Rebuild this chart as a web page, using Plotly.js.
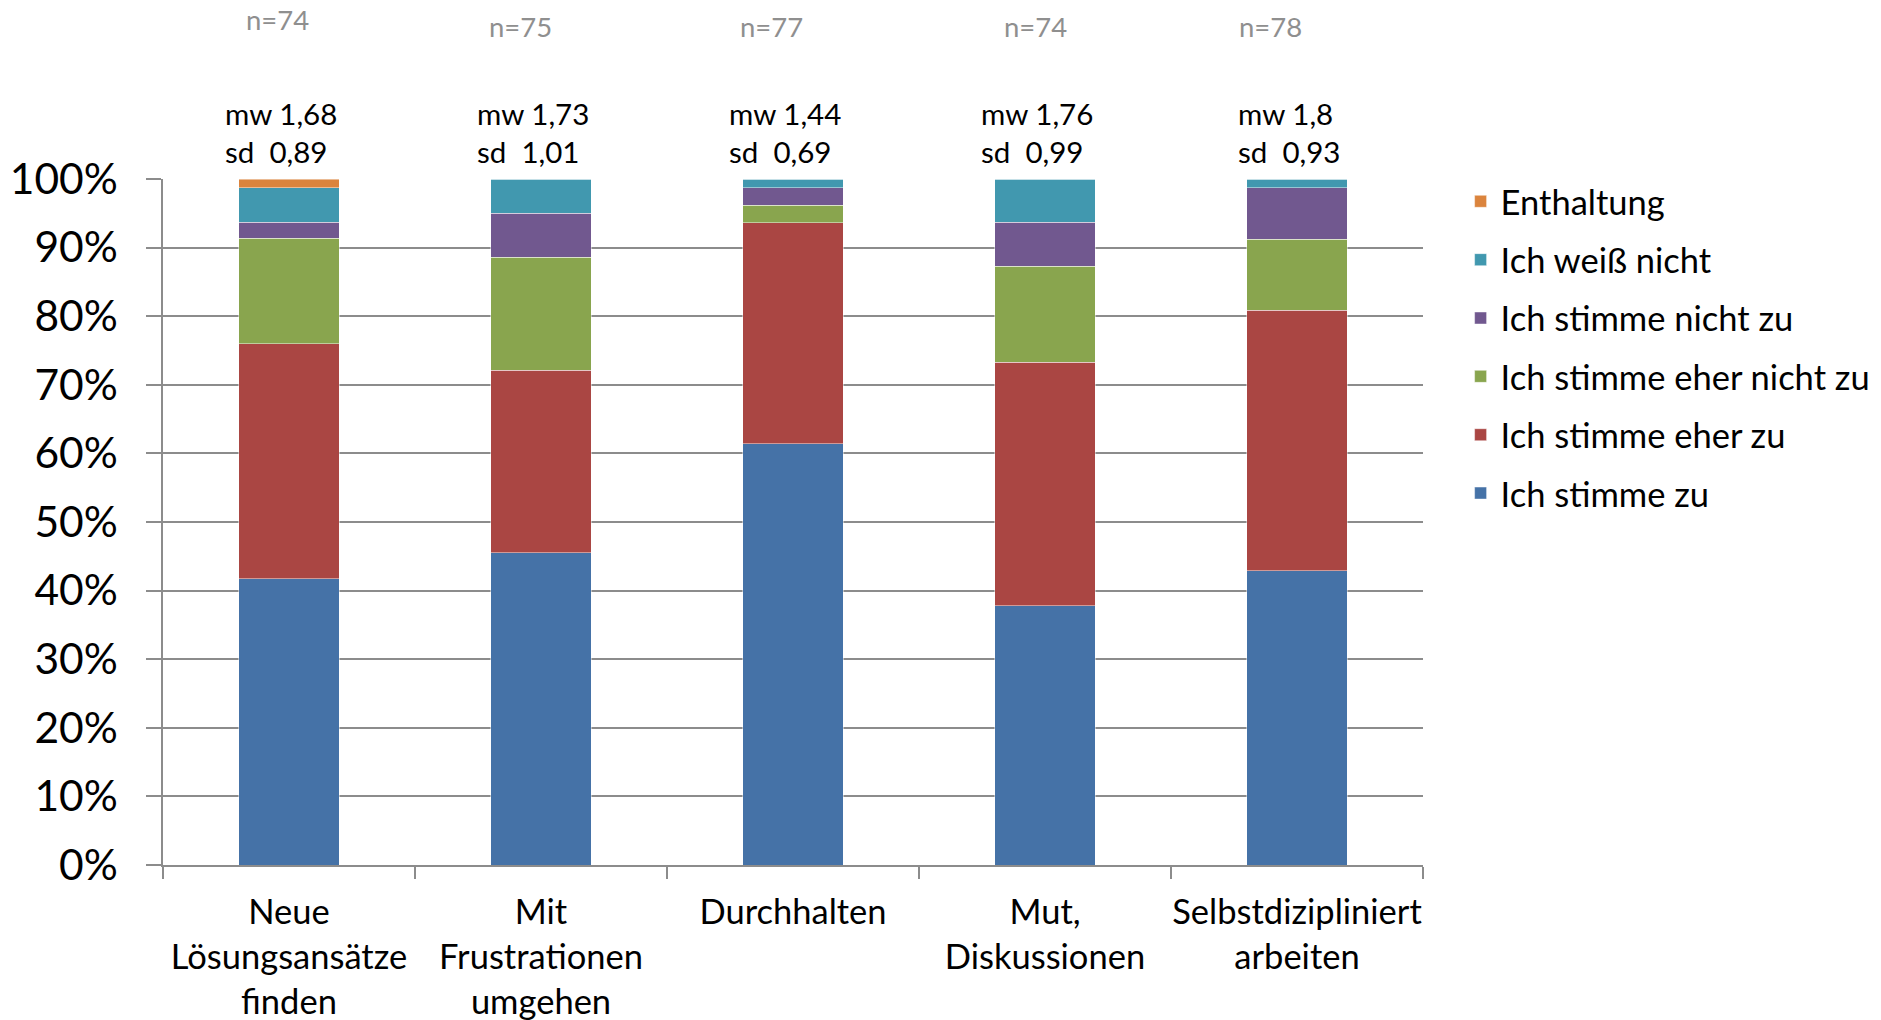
<!DOCTYPE html>
<html>
<head>
<meta charset="utf-8">
<script src="https://cdn.plot.ly/plotly-3.0.1.min.js"></script>
<style>
  html, body { margin: 0; padding: 0; background: #ffffff; }
  #chart { width: 1881px; height: 1020px; }
</style>
</head>
<body>
<div id="chart"></div>
<script>
// Survey answers per competence, share of respondents in percent
const categories = [
  "Neue<br>Lösungsansätze<br>finden",
  "Mit<br>Frustrationen<br>umgehen",
  "Durchhalten",
  "Mut,<br>Diskussionen",
  "Selbstdizipliniert<br>arbeiten"
];
const stimmeZu     = [41.7, 45.5, 61.4, 37.8, 42.9];
const eherZu       = [34.3, 26.6, 32.2, 35.5, 38.0];
const eherNichtZu  = [15.4, 16.5, 2.6, 14.0, 10.3];
const nichtZu      = [2.3, 6.4, 2.5, 6.4, 7.5];
const weissNicht   = [5.0, 5.0, 1.3, 6.3, 1.3];
const enthaltung   = [1.3, 0, 0, 0, 0];

// Sample size, mean and standard deviation per competence
const nValues  = [74, 75, 77, 74, 78];
const mwValues = ["1,68", "1,73", "1,44", "1,76", "1,8"];
const sdValues = ["0,89", "1,01", "0,69", "0,99", "0,93"];

const seriesNames = [
  "Ich stimme zu",
  "Ich stimme eher zu",
  "Ich stimme eher nicht zu",
  "Ich stimme nicht zu",
  "Ich weiß nicht",
  "Enthaltung"
];
const seriesValues = [stimmeZu, eherZu, eherNichtZu, nichtZu, weissNicht, enthaltung];
const seriesColors = ["#4572A7", "#AA4643", "#89A54E", "#71588F", "#4198AF", "#DB843D"];

const FONT = "Lato, 'Open Sans', sans-serif";

const traces = seriesNames.map((name, i) => ({
  type: "bar",
  name: name,
  x: categories.map((c, k) => k),
  y: seriesValues[i],
  width: 0.4,
  legendgroup: "g" + i,
  legendrank: seriesNames.length - i,
  marker: {
    color: seriesColors[i],
    line: { color: "rgba(255,255,255,0.45)", width: 1 }
  },
  hovertemplate: "%{y:.1f}%<extra>" + name + "</extra>"
}));

// small horizontal nudges of the n labels
const nShift = [-12, -21, -22, -10, -27];
const nY = [1.232, 1.223, 1.223, 1.223, 1.223];

const annotations = [];
nValues.forEach((n, k) => {
  annotations.push({
    x: k, xref: "x", y: nY[k], yref: "paper",
    text: "n=" + n, showarrow: false,
    xanchor: "center", yanchor: "middle", xshift: nShift[k],
    font: { family: FONT, size: 27.5, color: "#8f8f8f" }
  });
  annotations.push({
    x: k, xref: "x", y: 1.0685, yref: "paper",
    text: "mw " + mwValues[k] + "<br>sd\u00a0 " + sdValues[k],
    showarrow: false, align: "left",
    xanchor: "center", yanchor: "middle", xshift: -8,
    font: { family: FONT, size: 29.5, color: "#000000" }
  });
});

const layout = {
  width: 1881,
  height: 1020,
  paper_bgcolor: "#ffffff",
  plot_bgcolor: "#ffffff",
  barmode: "stack",
  margin: { l: 163, r: 458, t: 179, b: 155 },
  font: { family: FONT, color: "#000000" },
  xaxis: {
    type: "category",
    tickmode: "array",
    tickvals: categories.map((c, k) => k),
    ticktext: categories,
    range: [-0.5, categories.length - 0.5],
    showline: true, linecolor: "#8c8c8c", linewidth: 1.5,
    ticks: "outside", tickson: "boundaries", ticklen: 12,
    tickcolor: "#8c8c8c", tickwidth: 1.5,
    showgrid: false,
    tickangle: 0,
    automargin: false,
    ticklabelstandoff: 16,
    tickfont: { family: FONT, size: 34.5, color: "#000000" },
    fixedrange: true
  },
  yaxis: {
    range: [0, 100],
    dtick: 10,
    ticksuffix: "%",
    showline: true, linecolor: "#8c8c8c", linewidth: 1.5,
    ticks: "outside", ticklen: 15, tickcolor: "#8c8c8c", tickwidth: 1.5,
    showgrid: true, gridcolor: "#8c8c8c", gridwidth: 1.5,
    zeroline: false,
    automargin: false,
    ticklabelstandoff: 20,
    tickfont: { family: FONT, size: 42.5, color: "#000000" },
    fixedrange: true
  },
  legend: {
    xref: "container", yref: "container",
    x: 0.7765, xanchor: "left",
    y: 0.831, yanchor: "top",
    traceorder: "grouped",
    tracegroupgap: 10.5,
    font: { family: FONT, size: 34.5, color: "#000000" },
    bgcolor: "rgba(0,0,0,0)",
    borderwidth: 0
  },
  annotations: annotations,
  showlegend: true
};

Plotly.newPlot("chart", traces, layout, { displayModeBar: false, responsive: false });
</script>
</body>
</html>
